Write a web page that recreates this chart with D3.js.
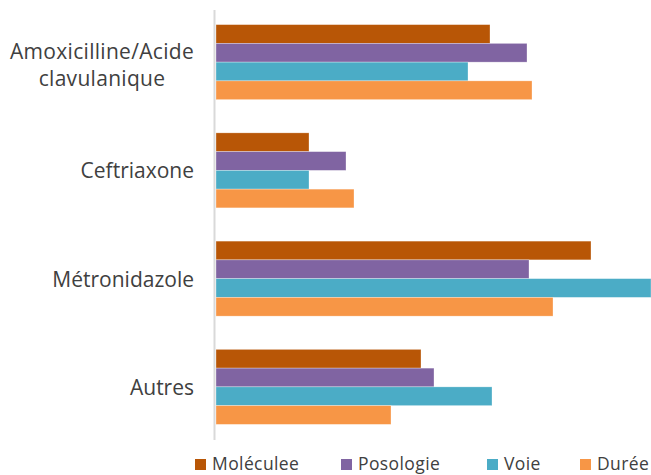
<!DOCTYPE html>
<html>
<head>
<meta charset="utf-8">
<script src="https://cdn.jsdelivr.net/npm/d3@7"></script>
<style>
  body { margin: 0; background: #fff; }
  text { font-family: "Open Sans", Lato, sans-serif; fill: #404040; }
</style>
</head>
<body>
<svg id="chart" width="651" height="475"></svg>
<script>
const categories = ["Amoxicilline/Acide clavulanique", "Ceftriaxone", "Métronidazole", "Autres"]
const series = ["Moléculee", "Posologie", "Voie", "Durée"]
const colors = ["#b85606", "#8064a2", "#4bacc6", "#f79646"]
// values (relative bar lengths)
const moleculee = [27.4, 9.3, 37.5, 20.5]
const posologie = [31.1, 13.0, 31.3, 21.8]
const voie = [25.2, 9.3, 43.5, 27.6]
const duree = [31.6, 13.8, 33.7, 17.5]
const values = [moleculee, posologie, voie, duree]

const svg = d3.select("#chart")
const plotLeft = 216, plotRight = 651, plotTop = 8, plotBottom = 441

const y = d3.scaleBand().domain(categories).range([plotTop, plotBottom]).paddingInner(0.307).paddingOuter(0.1535)
const ySub = d3.scaleBand().domain(series).range([0, y.bandwidth()])
const x = d3.scaleLinear().domain([0, 43.5]).range([plotLeft, plotRight])

const rows = categories.map((c, i) => ({ cat: c, vals: series.map((s, j) => ({ s, v: values[j][i], color: colors[j] })) }))

const groups = svg.selectAll(".grp").data(rows).enter().append("g")
  .attr("class", "grp")
  .attr("transform", d => `translate(0,${y(d.cat)})`)

groups.selectAll("rect").data(d => d.vals).enter().append("rect")
  .attr("x", x(0))
  .attr("y", d => ySub(d.s))
  .attr("width", d => x(d.v) - x(0))
  .attr("height", ySub.bandwidth())
  .attr("fill", d => d.color)
  .attr("stroke", "#ffffff")
  .attr("stroke-opacity", 0.5)
  .attr("stroke-width", 0.6)

// vertical axis line
svg.append("line")
  .attr("x1", 214.5).attr("x2", 214.5)
  .attr("y1", 10).attr("y2", 440)
  .attr("stroke", "#d9d9d9").attr("stroke-width", 2)

// category labels (wrapped Excel-style, block right-aligned)
const labelLines = {
  "Amoxicilline/Acide clavulanique": ["Amoxicilline/Acide", "clavulanique"]
}
categories.forEach(c => {
  const lines = labelLines[c] || [c]
  const lh = 27
  const cy = y(c) + y.bandwidth() / 2 + (lines.length > 1 ? 2.5 : 0)
  const t = svg.append("text").attr("font-size", 21).attr("text-anchor", "middle")
    .attr("letter-spacing", lines.length > 1 ? 0.3 : 0)
  lines.forEach(l => t.append("tspan").text(l))
  let maxW = 0
  t.selectAll("tspan").each(function () { maxW = Math.max(maxW, this.getComputedTextLength()) })
  const cx = 194 - maxW / 2
  t.selectAll("tspan")
    .attr("x", cx)
    .attr("y", (d, k) => cy + (k - (lines.length - 1) / 2) * lh)
    .attr("dominant-baseline", "central")
})

// legend
const legendX = [195, 341, 487, 580]
const legend = svg.selectAll(".leg").data(series).enter().append("g")
  .attr("class", "leg")
  .attr("transform", (d, i) => `translate(${legendX[i]},459)`)
legend.append("rect").attr("width", 11).attr("height", 11).attr("fill", (d, i) => colors[i])
legend.append("text")
  .attr("x", 17).attr("y", 10.5)
  .attr("font-size", 17.5)
  .attr("letter-spacing", 0.4)
  .text(d => d)
</script>
</body>
</html>
